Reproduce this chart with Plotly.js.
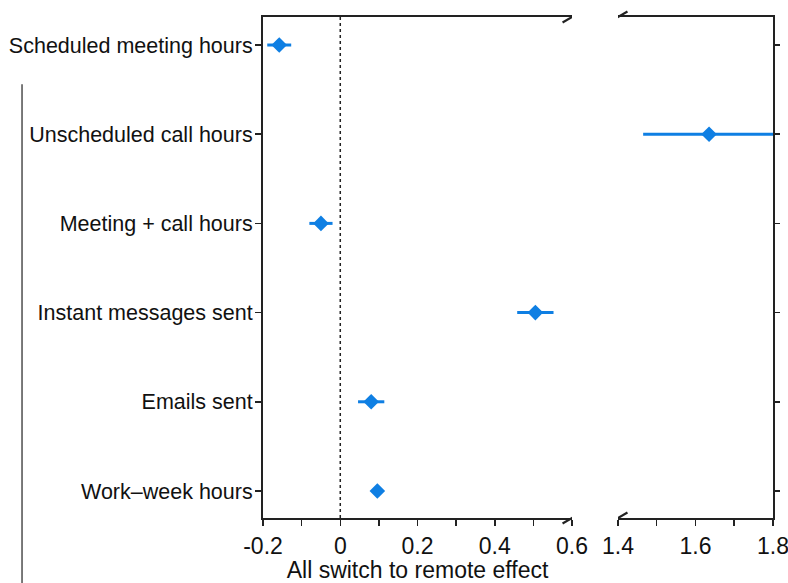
<!DOCTYPE html>
<html>
<head>
<meta charset="utf-8">
<script src="https://cdn.plot.ly/plotly-3.0.1.min.js"></script>
<style>html,body{margin:0;padding:0;background:#fff;}#chart{width:788px;height:583px;}</style>
</head>
<body>
<div id="chart"></div>
<script>
// Categories, bottom to top
const categories = ["Work–week hours", "Emails sent", "Instant messages sent", "Meeting + call hours", "Unscheduled call hours", "Scheduled meeting hours"];
// Point estimates and half-width of confidence intervals
const effects = [0.096, 0.080, 0.505, -0.050, 1.635, -0.158];
const errors  = [0.010, 0.034, 0.047, 0.030, 0.170, 0.031];

const leftTickVals  = [-0.2, -0.1, 0, 0.1, 0.2, 0.3, 0.4, 0.5, 0.6];
const leftTickText  = ["-0.2", "", "0", "", "0.2", "", "0.4", "", "0.6"];
const rightTickVals = [1.4, 1.5, 1.6, 1.7, 1.8];
const rightTickText = ["1.4", "", "1.6", "", "1.8"];
const leftRange  = [-0.2, 0.6];
const rightRange = [1.4, 1.8];
const xTitle = "All switch to remote effect";

const blue = "#0f7fe3";
const ink = "#222";
const fam = "Liberation Sans, Arial, sans-serif";
const catFont = {family: fam, size: 21.5, color: "#111"};
const tickFont = {family: fam, size: 23, color: "#111"};
const titleFont = {family: fam, size: 23, color: "#111"};

const trace = (xa, ya) => ({
  type: "scatter", mode: "markers",
  x: effects, y: categories, xaxis: xa, yaxis: ya,
  marker: {symbol: "diamond", size: 12, color: blue},
  error_x: {type: "data", array: errors, visible: true, color: blue, thickness: 3, width: 0},
  showlegend: false, hoverinfo: "skip"
});

const breakMark = (xr, xv, yv) => ({
  type: "line", xref: xr, yref: "paper",
  xsizemode: "pixel", xanchor: xv, x0: -9.5, x1: 9.5,
  ysizemode: "pixel", yanchor: yv, y0: -5.5, y1: 5.5,
  line: {color: ink, width: 2.2}
});

const layout = {
  width: 788, height: 583,
  margin: {l: 263, r: 15, t: 17, b: 65},
  paper_bgcolor: "#fff", plot_bgcolor: "#fff",
  font: catFont,
  xaxis: {
    domain: [0, 0.606], range: leftRange, tickvals: leftTickVals, ticktext: leftTickText,
    ticks: "outside", ticklen: 6, tickwidth: 1.5, tickcolor: ink,
    showline: true, linecolor: ink, linewidth: 2, mirror: true,
    showgrid: false, zeroline: false, anchor: "y", ticklabeloverflow: "allow",
    title: {text: xTitle, font: titleFont, standoff: 4}, tickfont: tickFont
  },
  xaxis2: {
    domain: [0.696, 1], range: rightRange, tickvals: rightTickVals, ticktext: rightTickText,
    ticks: "outside", ticklen: 6, tickwidth: 1.5, tickcolor: ink,
    showline: true, linecolor: ink, linewidth: 2, mirror: true, ticklabeloverflow: "allow",
    showgrid: false, zeroline: false, anchor: "y2", tickfont: tickFont
  },
  yaxis: {
    type: "category", categoryorder: "array", categoryarray: categories,
    range: [-0.303, 5.314], anchor: "x",
    ticks: "outside", ticklen: 6, tickwidth: 1.5, tickcolor: ink,
    showline: true, linecolor: ink, linewidth: 2,
    showgrid: false, zeroline: false, tickfont: catFont, ticklabelstandoff: -2
  },
  yaxis2: {
    type: "category", categoryorder: "array", categoryarray: categories,
    range: [-0.303, 5.314], anchor: "x2", side: "right", matches: "y",
    ticks: "outside", ticklen: 5, tickwidth: 1.5, tickcolor: ink,
    showline: true, linecolor: ink, linewidth: 2, showticklabels: false,
    showgrid: false, zeroline: false
  },
  shapes: [
    {type: "line", xref: "x", yref: "paper", x0: 0, x1: 0, y0: 0, y1: 1,
     line: {color: ink, width: 1.5, dash: "dot"}, layer: "below"},
    breakMark("x", 0.6, 1), breakMark("x", 0.6, 0),
    breakMark("x2", 1.4, 1), breakMark("x2", 1.4, 0),
    {type: "line", xref: "paper", yref: "paper", x0: -0.4725, x1: -0.4725, y0: 0.866, y1: -0.2,
     line: {color: "#222", width: 1.2}}
  ]
};

Plotly.newPlot("chart", [trace("x", "y"), trace("x2", "y2")], layout, {displayModeBar: false, staticPlot: true});
</script>
</body>
</html>
